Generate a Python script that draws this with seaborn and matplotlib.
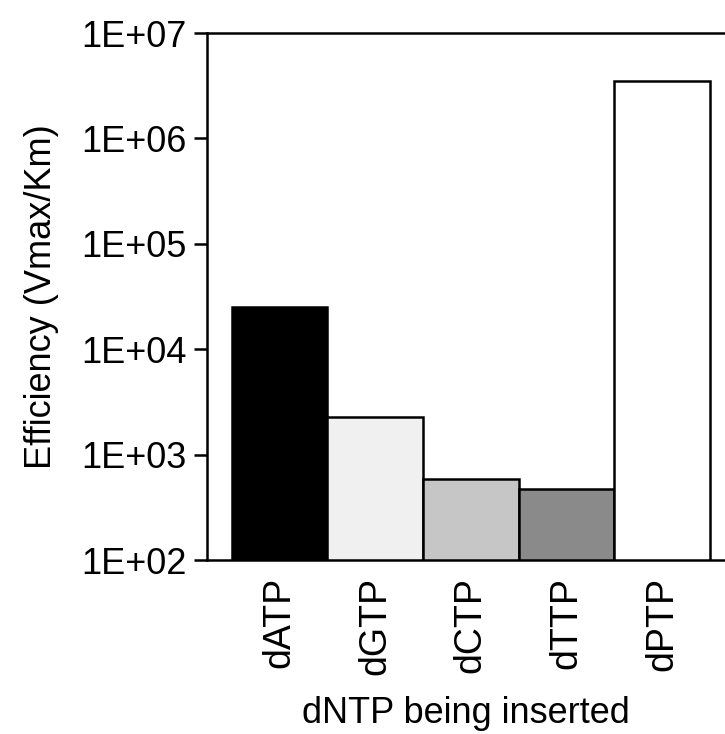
import seaborn as sns
import matplotlib.pyplot as plt
import pandas as pd
from matplotlib.ticker import FixedLocator, FuncFormatter, NullLocator

# values (log axis)
dntp = ['dATP', 'dGTP', 'dCTP', 'dTTP', 'dPTP']
efficiency = [25000, 2300, 590, 470, 3.5e6]
bar_colors = ['#000000', '#f0f0f0', '#c6c6c6', '#8a8a8a', '#ffffff']
ytick_vals = [1e2, 1e3, 1e4, 1e5, 1e6, 1e7]

sns.set_style('white')
plt.rcParams['font.family'] = ['Liberation Sans', 'DejaVu Sans']
plt.rcParams['text.color'] = 'black'
plt.rcParams['axes.labelcolor'] = 'black'
plt.rcParams['xtick.color'] = 'black'
plt.rcParams['ytick.color'] = 'black'

df = pd.DataFrame({'dNTP': dntp, 'Efficiency': efficiency})

fig = plt.figure(figsize=(7.25, 7.34), dpi=100)
ax = fig.add_axes([0.2855, 0.237, 0.7145, 0.718])

sns.barplot(data=df, x='dNTP', y='Efficiency', hue='dNTP', palette=bar_colors,
            legend=False, width=1.0, edgecolor='black', linewidth=1.8,
            saturation=1, ax=ax)

ax.set_yscale('log')
ax.set_ylim(1e2, 1e7)
ax.set_xlim(-0.76, 4.66)
ax.yaxis.set_major_locator(FixedLocator(ytick_vals))
ax.yaxis.set_minor_locator(NullLocator())
ax.yaxis.set_major_formatter(FuncFormatter(lambda v, p: f'{v:.0E}'))

for side in ['left', 'bottom', 'top']:
    ax.spines[side].set_visible(True)
    ax.spines[side].set_linewidth(1.8)
    ax.spines[side].set_color('black')
ax.spines['right'].set_visible(False)

ax.tick_params(axis='y', direction='out', length=9.5, width=1.8, pad=5,
               labelsize=26, left=True)
ax.tick_params(axis='x', which='major', length=0, pad=12, labelsize=27,
               labelrotation=90)
ax.set_xticks([2], minor=True)
ax.tick_params(axis='x', which='minor', direction='out', length=9, width=1.8,
               bottom=True)

ax.set_xlabel('dNTP being inserted', fontsize=26, labelpad=15)
ax.set_ylabel('Efficiency (Vmax/Km)', fontsize=26, labelpad=16)

fig.savefig('out.png', dpi=100)
